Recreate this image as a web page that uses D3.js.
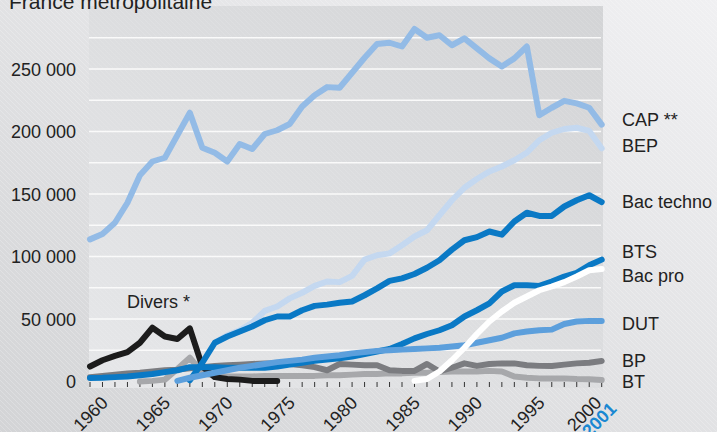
<!DOCTYPE html>
<html lang="fr">
<head>
	<meta charset="utf-8"/>
	<title>Effectifs par diplôme</title>
	<script src="https://d3js.org/d3.v7.min.js" charset="utf-8"></script>
	<style>
		body { margin: 0; }
		svg text { font-family: "Liberation Sans", Arial, sans-serif; fill: #222; }
	</style>
</head>
<body>
<div id="chart"></div>

<script>
	// DATA
	var years = [1959, 1960, 1961, 1962, 1963, 1964, 1965, 1966, 1967, 1968,
		1969, 1970, 1971, 1972, 1973, 1974, 1975, 1976, 1977, 1978,
		1979, 1980, 1981, 1982, 1983, 1984, 1985, 1986, 1987, 1988,
		1989, 1990, 1991, 1992, 1993, 1994, 1995, 1996, 1997, 1998,
		1999, 2000];

	var cap = [113700, 118000, 127000, 143000, 165000, 176000, 179000, 197000, 215000, 187000,
		183000, 176000, 190000, 186000, 198000, 201000, 206000, 220000, 229000, 235500,
		235000, 247000, 259000, 270000, 271000, 268000, 282000, 275000, 277000, 269000,
		274500, 266500, 258500, 252000, 258500, 268000, 213000, 219000, 224500, 222500,
		219000, 205500];

	var bep = [null, null, null, null, null, null, null, null, null, null,
		31000, 37000, 41000, 47000, 56500, 60000, 66500, 71000, 76500, 80000,
		79500, 84500, 97500, 101000, 102500, 109000, 116000, 121000, 133000, 145000,
		155000, 162000, 168000, 172000, 177000, 183000, 193000, 199000, 202000, 203000,
		200500, 186500];

	var bacTechno = [null, null, null, null, null, null, null, null, 1000, 15000,
		31000, 36000, 40000, 44000, 49000, 52000, 52000, 57000, 60500, 61500,
		63000, 64000, 69000, 74500, 80500, 82500, 86000, 91000, 97000, 105500,
		113000, 115500, 120000, 117500, 128000, 135000, 132500, 132500, 140000, 145000,
		149000, 143500];

	var bts = [2800, 3000, 3500, 4000, 5000, 6000, 7500, 9000, 11500, 11500,
		11500, 11000, 11000, 11000, 11000, 12000, 13500, 15000, 16500, 17500,
		18500, 20000, 22000, 24000, 26000, 30000, 34500, 38000, 41000, 45000,
		52000, 57000, 62500, 72000, 77000, 77000, 76500, 80000, 84000, 87000,
		93000, 97500];

	var bacPro = [null, null, null, null, null, null, null, null, null, null,
		null, null, null, null, null, null, null, null, null, null,
		null, null, null, null, null, null, 500, 2000, 8000, 17000,
		27000, 38000, 48000, 56000, 63000, 68000, 73000, 76000, 79500, 84000,
		89000, 90000];

	var dut = [null, null, null, null, null, null, null, 500, 3000, 5000,
		7000, 9000, 11000, 12500, 14000, 15500, 16500, 17500, 19000, 20000,
		21000, 22500, 23500, 24500, 25000, 25500, 26000, 26500, 27000, 28000,
		29000, 31000, 33000, 35000, 38500, 40000, 41000, 41500, 46000, 48000,
		48500, 48500];

	var bp = [3500, 4500, 5500, 6500, 7000, 8000, 9000, 9500, 10500, 11500,
		12500, 13000, 13500, 14000, 14500, 14500, 14000, 13000, 11500, 9000,
		14000, 13500, 13000, 13000, 9000, 8500, 8500, 14000, 8000, 11000,
		14500, 12500, 14000, 14500, 14500, 13000, 12500, 12400, 13500, 14500,
		15000, 16400];

	var bt = [null, null, null, null, 0, 500, 1500, 10000, 19000, 7000,
		4500, 4000, 4000, 4000, 4500, 4500, 4500, 4500, 4500, 5000,
		5000, 5500, 6000, 6000, 6500, 6500, 7000, 7000, 7500, 8000,
		8000, 8000, 8500, 8000, 4000, 3000, 2500, 2500, 2500, 2000,
		1800, 1200];

	var divers = [12000, 17000, 20500, 23500, 31000, 43000, 36000, 34000, 42500, 12000,
		3500, 2000, 1500, 500, 500, 500, null, null, null, null,
		null, null, null, null, null, null, null, null, null, null,
		null, null, null, null, null, null, null, null, null, null,
		null, null];

	var yTicks = [0, 50000, 100000, 150000, 200000, 250000];
	var gridValues = [25000, 50000, 75000, 100000, 125000, 150000, 175000, 200000, 225000, 250000, 275000];
	var xLabels = [1960, 1965, 1970, 1975, 1980, 1985, 1990, 1995, 2000];

	// drawing order: bottom first
	var series = [
		{ name: "BT", values: bt, color: "#a7a8ab", label: 388 },
		{ name: "BP", values: bp, color: "#7b7c80", label: 366.5 },
		{ name: "Divers *", values: divers, color: "#1c1c1c", label: null },
		{ name: "BEP", values: bep, color: "#c4d8f0", label: 151.5 },
		{ name: "BTS", values: bts, color: "#0a79c5", label: 258 },
		{ name: "Bac techno", values: bacTechno, color: "#0a79c5", label: 208 },
		{ name: "DUT", values: dut, color: "#5c9fdc", label: 330 },
		{ name: "Bac pro", values: bacPro, color: "#ffffff", label: 281.5 },
		{ name: "CAP **", values: cap, color: "#93bbe6", label: 126 }
	];

	var width = 717,
		height = 432;

	var svg = d3.select("#chart").append("svg")
		.attr("width", width)
		.attr("height", height);

	var x = d3.scaleLinear()
		.domain([1959, 2000])
		.range([90, 601.7]);

	var y = d3.scaleLinear()
		.domain([0, 300000])
		.range([381.5, 6.5]);

	// background gradients and hatching
	var defs = svg.append("defs");

	var bgGrad = defs.append("linearGradient")
		.attr("id", "bg")
		.attr("x1", "0").attr("y1", "1").attr("x2", "1").attr("y2", "0");
	bgGrad.append("stop").attr("offset", "0").attr("stop-color", "#d3d4d6");
	bgGrad.append("stop").attr("offset", "1").attr("stop-color", "#f0f0f2");

	var panelGrad = defs.append("linearGradient")
		.attr("id", "panel")
		.attr("x1", "0").attr("y1", "1").attr("x2", "1").attr("y2", "0");
	panelGrad.append("stop").attr("offset", "0").attr("stop-color", "#e6e7e9");
	panelGrad.append("stop").attr("offset", "1").attr("stop-color", "#d3d4d6");

	var hatch = defs.append("pattern")
		.attr("id", "hatch")
		.attr("patternUnits", "userSpaceOnUse")
		.attr("width", 5)
		.attr("height", 5);
	hatch.append("path")
		.attr("d", "M0,0 L5,5 M-1,4 L1,6 M4,-1 L6,1")
		.attr("stroke", "#ffffff")
		.attr("stroke-opacity", 0.28)
		.attr("stroke-width", 0.8);

	svg.append("rect")
		.attr("width", width)
		.attr("height", height)
		.attr("fill", "url(#bg)");
	svg.append("rect")
		.attr("width", width)
		.attr("height", height)
		.attr("fill", "url(#hatch)");

	var plotLeft = 89, plotRight = 603, plotTop = 6, plotBottom = 388;

	svg.append("rect")
		.attr("x", plotLeft)
		.attr("y", plotTop)
		.attr("width", plotRight - plotLeft)
		.attr("height", plotBottom - plotTop)
		.attr("fill", "url(#panel)");
	svg.append("rect")
		.attr("x", plotLeft)
		.attr("y", plotTop)
		.attr("width", plotRight - plotLeft)
		.attr("height", plotBottom - plotTop)
		.attr("fill", "url(#hatch)")
		.attr("opacity", 0.5);

	// title
	svg.append("text")
		.attr("x", 9)
		.attr("y", 8.5)
		.attr("font-size", 21)
		.text("France métropolitaine");

	// gridlines
	svg.append("g")
		.selectAll("line")
		.data(gridValues)
		.enter().append("line")
		.attr("x1", plotLeft)
		.attr("x2", 601)
		.attr("y1", function(d) { return y(d); })
		.attr("y2", function(d) { return y(d); })
		.attr("stroke", "#fafafa")
		.attr("stroke-width", 1.4);

	// y labels
	var fmt = function(d) { return d3.format(",")(d).replace(/,/g, " "); };
	svg.append("g")
		.selectAll("text")
		.data(yTicks)
		.enter().append("text")
		.attr("x", 76)
		.attr("y", function(d) { return y(d) + 6.5; })
		.attr("text-anchor", "end")
		.attr("font-size", 18)
		.text(fmt);

	// x ticks
	svg.append("g")
		.selectAll("line")
		.data(years)
		.enter().append("line")
		.attr("x1", function(d) { return x(d); })
		.attr("x2", function(d) { return x(d); })
		.attr("y1", 382)
		.attr("y2", 387)
		.attr("stroke", "#333")
		.attr("stroke-width", 1);

	svg.append("g")
		.selectAll("text")
		.data(xLabels)
		.enter().append("text")
		.attr("transform", function(d) {
			// last label is nudged left to leave room for "2001"
			var dx = d === 2000 ? 1 : 6.5;
			return "translate(" + (x(d) + dx) + ",404) rotate(-45)";
		})
		.attr("text-anchor", "end")
		.attr("font-size", 18)
		.text(function(d) { return d; });

	svg.append("text")
		.attr("transform", "translate(" + (x(2000) + 16) + ",410) rotate(-45)")
		.attr("text-anchor", "end")
		.attr("font-size", 18)
		.attr("font-weight", "bold")
		.style("fill", "#1a88d2")
		.text("2001");

	// lines
	var line = d3.line()
		.defined(function(d) { return d.v !== null; })
		.x(function(d) { return x(d.year); })
		.y(function(d) { return y(d.v); });

	svg.append("g")
		.selectAll("path")
		.data(series)
		.enter().append("path")
		.attr("d", function(s) {
			return line(years.map(function(yr, i) { return { year: yr, v: s.values[i] }; }));
		})
		.attr("fill", "none")
		.attr("stroke", function(s) { return s.color; })
		.attr("stroke-width", 6)
		.attr("stroke-linejoin", "round")
		.attr("stroke-linecap", "round");

	// labels on the right
	svg.append("g")
		.selectAll("text")
		.data(series.filter(function(s) { return s.label !== null; }))
		.enter().append("text")
		.attr("x", 622)
		.attr("y", function(s) { return s.label; })
		.attr("font-size", 18)
		.text(function(s) { return s.name; });

	svg.append("text")
		.attr("x", 127)
		.attr("y", 308)
		.attr("font-size", 18)
		.text("Divers *");
</script>
</body>
</html>
